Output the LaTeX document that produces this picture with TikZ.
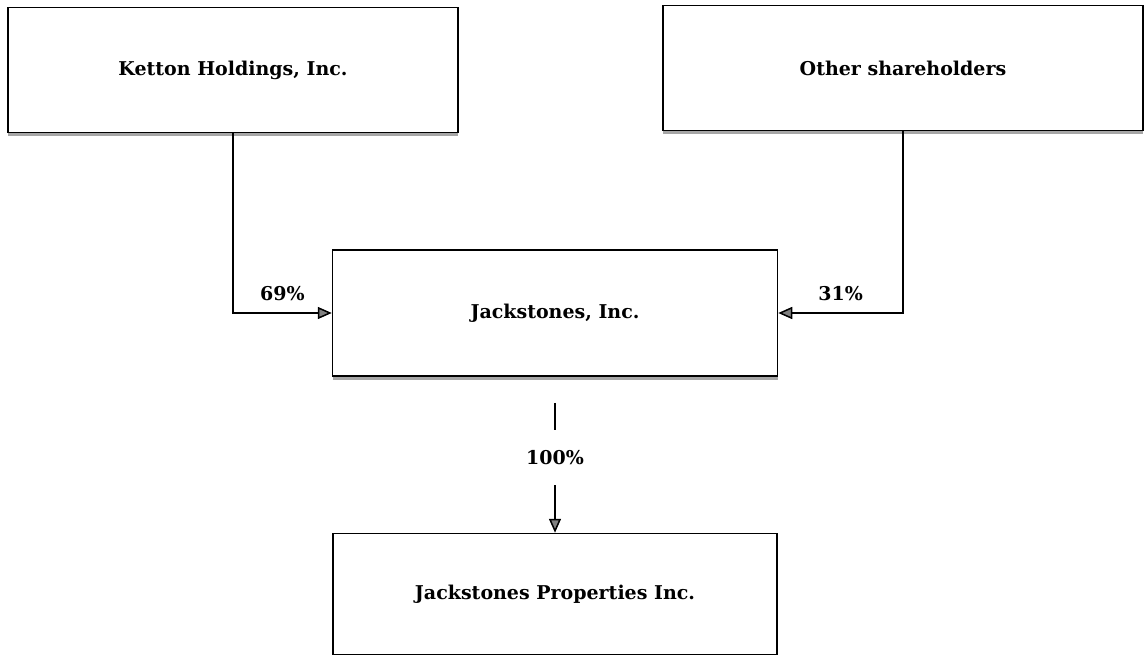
\documentclass[tikz,border=0pt]{standalone}
\usepackage{fontspec}
\setmainfont{DejaVu Serif}
\usetikzlibrary{positioning,arrows.meta,shadows}

\begin{document}
\begin{tikzpicture}[
        x=1pt, y=-1pt,
        holder/.style={rectangle, draw=black, fill=white, line width=1.5pt, font=\fontsize{19}{22}\selectfont\bfseries,
            drop shadow={shadow xshift=0pt, shadow yshift=-4pt, fill=black!35, opacity=1}},
        owns/.style={-{Triangle[length=14pt, width=12pt, fill=black!50]}, line width=1.5pt},
        share/.style={font=\fontsize{19}{22}\selectfont\bfseries, inner sep=2pt},
    ]
    \useasboundingbox (0,0) rectangle (1145,655);
    \node[holder, minimum width=450pt, minimum height=125pt] (ketton) at (233,70) {Ketton Holdings, Inc.};
    \node[holder, minimum width=480pt, minimum height=125pt] (other) at (903,68) {Other shareholders};
    \node[holder, minimum width=445pt, minimum height=126pt] (jack) at (555,313) {Jackstones, Inc.};
    \node[holder, minimum width=444pt, minimum height=121pt] (props) [below=156pt of jack] {Jackstones Properties Inc.};

    \draw[owns] (ketton.south) |- node[share, pos=0.75, above=9pt] {69\%} (jack.west);
    \draw[owns] (other.south) |- node[share, pos=0.75, above=9pt] {31\%} (jack.east);
    \draw[owns] ([yshift=-26pt]jack.south) -- node[share, pos=0.42, fill=white, minimum height=55pt] {100\%} (props.north);
\end{tikzpicture}
\end{document}
